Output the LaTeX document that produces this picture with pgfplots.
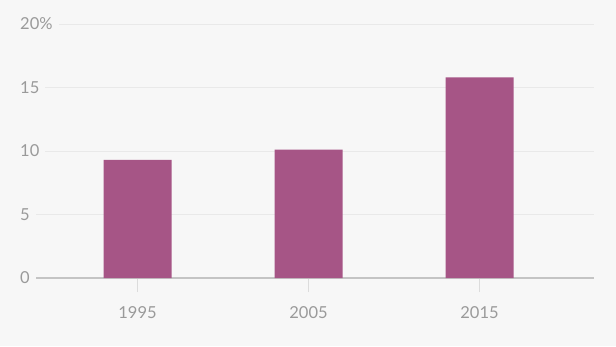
\documentclass[border=0pt]{standalone}
\usepackage{fontspec}
\setmainfont{Lato}
\usepackage{pgfplots}
\pgfplotsset{compat=1.18}
\definecolor{bg}{HTML}{F7F7F7}
\definecolor{barc}{HTML}{A65586}
\definecolor{lab}{HTML}{9A9A9A}
\definecolor{gridc}{HTML}{E9E9E9}
\definecolor{tickc}{HTML}{DCDCDC}
\definecolor{basec}{HTML}{C4C4C4}
\begin{document}
\begin{tikzpicture}
\fill[bg] (0,0) rectangle (616pt,346pt);
\path[use as bounding box] (0,0) rectangle (616pt,346pt);
\begin{axis}[
  at={(17pt,68pt)}, anchor=south west,
  scale only axis, width=577pt, height=254pt,
  xmin=-0.7047, xmax=2.6696, ymin=0, ymax=20,
  axis line style={draw=none},
  xtick pos=bottom, ytick pos=left,
  xtick=data, xticklabels={1995,2005,2015},
  xtick align=outside, major tick length=14pt,
  xtick style={draw=tickc, line width=1pt},
  ytick={5,10,15,20}, yticklabels={5,10,15,20\%},
  ytick style={draw=none},
  extra y ticks={0}, extra y tick labels={0},
  extra y tick style={grid style={draw=basec, line width=1.3pt}, ytick style={draw=none}},
  ymajorgrids, grid style={draw=gridc, line width=0.9pt},
  /pgf/number format/assume math mode=true,
  tick label style={font=\fontsize{16.5}{20}\selectfont, text=lab},
  yticklabel style={anchor=west, fill=bg, inner xsep=6pt, inner ysep=1pt, xshift=-3pt},
  xticklabel style={yshift=-11pt},
  enlargelimits=false, clip=false,
]
\addplot[ybar, bar width=68pt, bar shift=0pt, fill=barc, draw=none] coordinates {(0,9.3) (1,10.1) (2,15.8)};
\end{axis}
\end{tikzpicture}
\end{document}
